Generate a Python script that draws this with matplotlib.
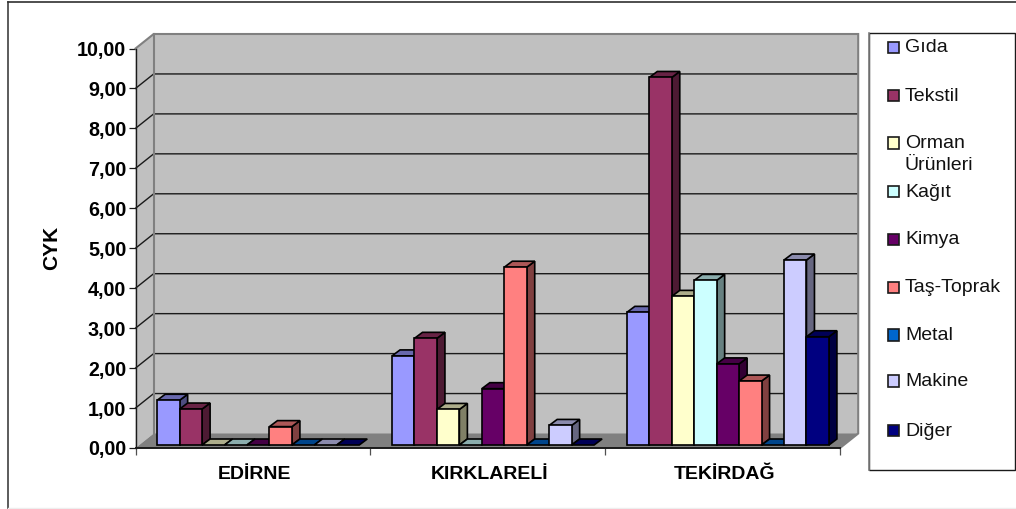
import matplotlib
matplotlib.use("Agg")
import matplotlib.pyplot as plt
from matplotlib.patches import Polygon, Rectangle
from matplotlib.lines import Line2D
from matplotlib.colors import to_rgb

plt.rcParams['font.family'] = ['Liberation Sans', 'DejaVu Sans']

regions = ["EDİRNE", "KIRKLARELİ", "TEKİRDAĞ"]
series = ["Gıda", "Tekstil", "Orman\nÜrünleri", "Kağıt", "Kimya", "Taş-Toprak", "Metal", "Makine", "Diğer"]
colors = ["#9999FF", "#993366", "#FFFFCC", "#CCFFFF", "#660066", "#FF8080", "#0066CC", "#CCCCFF", "#000080"]
gida = [1.12, 2.23, 3.32]
tekstil = [0.90, 2.67, 9.20]
orman = [0.0, 0.89, 3.72]
kagit = [0.0, 0.0, 4.12]
kimya = [0.0, 1.41, 2.03]
tas = [0.46, 4.45, 1.60]
metal = [0.0, 0.0, 0.0]
makine = [0.0, 0.49, 4.63]
diger = [0.0, 0.0, 2.71]
values = [gida, tekstil, orman, kagit, kimya, tas, metal, makine, diger]
yticks = [0, 1, 2, 3, 4, 5, 6, 7, 8, 9, 10]

W, H = 1016, 509
fig = plt.figure(figsize=(W / 100, H / 100), dpi=100, facecolor="white")
L, R, T, B = 135.5, 840.0, 48.5, 448.0
ax = fig.add_axes([L / W, 1 - B / H, (R - L) / W, (B - T) / H])
ax.set_xlim(0, 3)
ax.set_ylim(0, 10)
ax.patch.set_visible(False)
for s in ax.spines.values():
    s.set_visible(False)

ux = 3 / (R - L)   # data units per pixel
uy = 10 / (B - T)
DX, DY = 18.2 * ux, 14.5 * uy


def poly(pts, fc, ec="none", lw=0.0, z=1):
    ax.add_patch(Polygon(pts, closed=True, facecolor=fc, edgecolor=ec, linewidth=lw,
                         zorder=z, clip_on=False, joinstyle="miter"))


# walls and floor
poly([(0, 0), (DX, DY), (DX, 10 + DY), (0, 10)], "#C0C0C0")
poly([(DX, DY), (3 + DX, DY), (3 + DX, 10 + DY), (DX, 10 + DY)], "#C0C0C0")
poly([(0, 0), (3, 0), (3 + DX, DY), (DX, DY)], "#808080")
# grid
for v in yticks[1:-1]:
    ax.plot([0, DX, 3 + DX], [v, v + DY, v + DY], color="#1a1a1a", lw=1.0, zorder=2, clip_on=False,
            solid_joinstyle="miter")
# wall borders
ax.plot([DX, DX], [DY, 10 + DY], color="#808080", lw=1.5, zorder=2, clip_on=False)
ax.plot([0, DX, 3 + DX, 3 + DX, 3], [10, 10 + DY, 10 + DY, DY, 0], color="#808080", lw=1.5, zorder=2,
        clip_on=False, solid_joinstyle="miter")
ax.plot([0, 0], [0, 10], color="#1a1a1a", lw=1.0, zorder=3, clip_on=False)
ax.plot([0, 3], [0, 0], color="#1a1a1a", lw=1.4, zorder=3, clip_on=False)

# bars
bw = 22.45 * ux
gap = (157.2 - L) * ux
oy = 3.0 * uy
bdx, bdy = 8.0 * ux, 6.0 * uy
z = 4
for g in range(len(regions)):
    for k, vals in enumerate(values):
        c = to_rgb(colors[k])
        v = vals[g]
        x0 = g + gap + k * bw
        x1 = x0 + bw
        y0 = oy
        y1 = oy + v
        top = tuple(i * 0.68 for i in c)
        side = tuple(i * 0.5 for i in c)
        kw = dict(ec="black", lw=1.2, z=z)
        if v > 0:
            poly([(x1, y0), (x1 + bdx, y0 + bdy), (x1 + bdx, y1 + bdy), (x1, y1)], side, **kw)
        poly([(x0, y1), (x1, y1), (x1 + bdx, y1 + bdy), (x0 + bdx, y1 + bdy)], top, **kw)
        if v > 0:
            poly([(x0, y0), (x1, y0), (x1, y1), (x0, y1)], c, **kw)
        z += 1

# axis ticks and labels
ax.set_yticks(yticks)
ax.set_yticklabels([f"{v:.2f}".replace(".", ",") for v in yticks], fontsize=14.2, fontweight="bold")
ax.set_xticks([0, 1, 2, 3])
ax.set_xticklabels([])
ax.set_xticks([i + 0.5 + 1.5 * ux for i in range(len(regions))], minor=True)
ax.set_xticklabels(regions, minor=True, fontsize=14, fontweight="bold")
ax.tick_params(axis="y", length=4.7, width=0.9, color="#1a1a1a", pad=2)
ax.tick_params(axis="x", which="major", length=5, width=0.9, color="#505050")
ax.tick_params(axis="x", which="minor", length=0, pad=13.2)
ax.set_ylabel("CYK", fontsize=15, fontweight="bold", labelpad=0)
ax.yaxis.set_label_coords((61 - L) / (R - L), 0.5)


def fx(p):
    return p / W


def fy(p):
    return 1 - p / H


# outer frame
fig.add_artist(Line2D([fx(7.5), fx(7.5)], [fy(1.5), fy(509)], color="#404040", lw=1.2))
fig.add_artist(Line2D([fx(7.5), fx(1016)], [fy(1.5), fy(1.5)], color="#303030", lw=1.2))
fig.add_artist(Line2D([fx(7.5), fx(1016)], [fy(508), fy(508)], color="#eeeeee", lw=1.0))

# legend box
fig.add_artist(Rectangle((fx(869), fy(470)), fx(1014.5 - 869), fy(33) - fy(470), facecolor="white",
                         edgecolor="#1a1a1a", linewidth=1.0, transform=fig.transFigure))
fig.add_artist(Line2D([fx(869), fx(869)], [fy(33), fy(470)], color="#808080", lw=1.2))
ly = [47, 95.5, 143, 191, 239, 287, 335, 381, 430]
for name, col, y in zip(series, colors, ly):
    fig.add_artist(Rectangle((fx(888), fy(y + 5.5)), fx(11), fy(y - 5.5) - fy(y + 5.5), facecolor=col,
                             edgecolor="#1a1a1a", linewidth=1.2, transform=fig.transFigure))
    for j, line in enumerate(name.split("\n")):
        fig.text(fx(905), fy(y + 1 + 21 * j), line, fontsize=14, va="center", ha="left", color="#111111")

fig.savefig("out.png", dpi=100)
